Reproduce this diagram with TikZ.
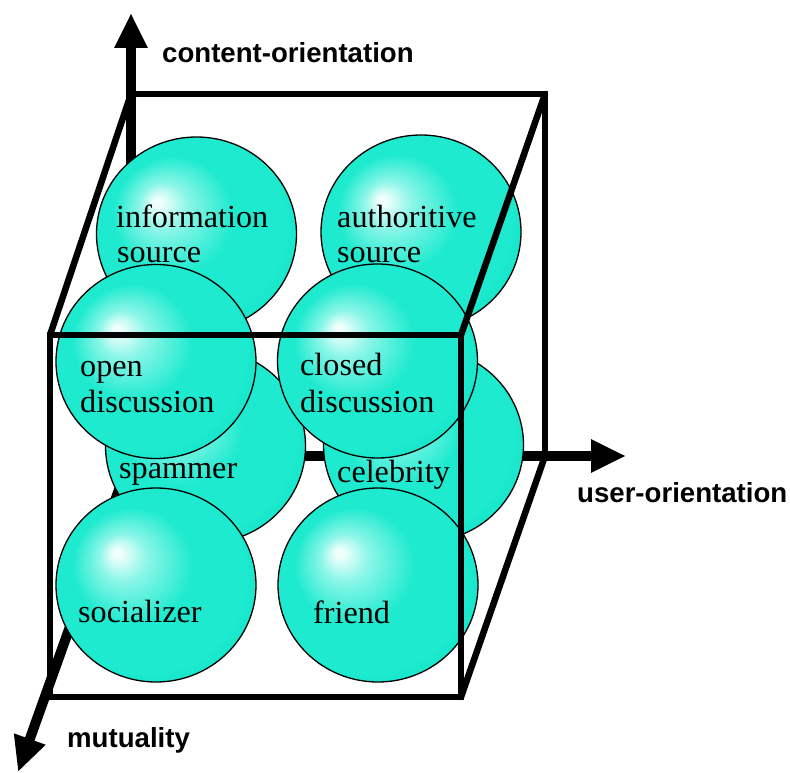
\documentclass[tikz,border=0pt]{standalone}
\usepackage{fontspec}
\setmainfont{Liberation Serif}
\newfontfamily\axisfont{Liberation Sans}
\usetikzlibrary{arrows.meta,shapes.geometric}
\definecolor{turq}{RGB}{30,234,207}
\definecolor{turqmid}{RGB}{140,246,232}
\definecolor{turqdark}{RGB}{0,222,194}
\definecolor{hl}{RGB}{240,255,252}
\pgfdeclareradialshading{sphere}{\pgfpoint{-10bp}{8.5bp}}{color(0bp)=(hl); color(1bp)=(hl); color(6bp)=(turqmid); color(15bp)=(turq); color(25bp)=(turq); color(36bp)=(turqdark)}
\begin{document}
\begin{tikzpicture}[x=1pt,y=-1pt,
  edge/.style={line width=6.5pt, line join=miter},
  depth/.style={line width=6.5pt, line cap=round},
  axis/.style={line width=10pt, -{Triangle[length=35pt,width=31pt]}},
  ball/.style={ellipse, draw=black, line width=1.3pt, shading=sphere, minimum width=200pt, minimum height=194pt, inner sep=0pt},
  balltext/.style={anchor=base west, inner sep=0pt, font=\fontsize{32.2}{36}\selectfont},
  axislabel/.style={anchor=base west, inner sep=0pt, font=\axisfont\bfseries\fontsize{27.6}{32}\selectfont}]
\useasboundingbox (0,0) rectangle (790,773);
% cube corners
\coordinate (btl) at (131,94);
\coordinate (btr) at (545,94);
\coordinate (bbl) at (131,456);
\coordinate (bbr) at (545,456);
\coordinate (ftl) at (50,335);
\coordinate (ftr) at (461,335);
\coordinate (fbl) at (50,697);
\coordinate (fbr) at (461,697);
\coordinate (ztip) at (131,13);
\coordinate (xtip) at (626,456);
\coordinate (ytip) at (18,772);
% back parts (behind the spheres)
\draw[axis] (bbl) -- (ztip);
\draw[axis] (bbl) -- (xtip);
\draw[axis] (bbl) -- (ytip);
\draw[edge] (btl) -- (btr) -- (bbr);
\draw[depth] (btl) -- (ftl);
\draw[depth] (bbr) -- (fbr);
% spheres, back to front
\node[ball] (info) at (196.5,234) {};
\node[ball] (auth) at (421,232) {};
\node[ball] (spam) at (205.5,446) {};
\node[ball] (celeb) at (423.5,445) {};
\node[ball] (open) at (156,361.5) {};
\node[ball] (closed) at (377.5,361) {};
\node[ball] (social) at (156,585) {};
\node[ball] (friend) at (378,585) {};
% sphere labels
\node[balltext] (infoa) at (116,227) {information};
\node[balltext] (infob) at (117,262) {source};
\node[balltext] (autha) at (337,227) {authoritive};
\node[balltext] (authb) at (337,262) {source};
\node[balltext] (opena) at (80,376) {open};
\node[balltext] (openb) at (80,412) {discussion};
\node[balltext] (closeda) at (300,375) {closed};
\node[balltext] (closedb) at (300,412) {discussion};
\node[balltext] (spamt) at (119,478) {spammer};
\node[balltext] (celebt) at (337,482) {celebrity};
\node[balltext] (socialt) at (78,622) {socializer};
\node[balltext] (friendt) at (313,623) {friend};
% front parts (over the spheres)
\draw[depth] (btr) -- (ftr);
\draw[edge] (ftl) -- (ftr) -- (fbr) -- (fbl) -- cycle;
% axis labels
\node[axislabel] (lz) at (162,63) {content-orientation};
\node[axislabel] (lx) at (577,502) {user-orientation};
\node[axislabel] (ly) at (67,747) {mutuality};
\end{tikzpicture}
\end{document}
